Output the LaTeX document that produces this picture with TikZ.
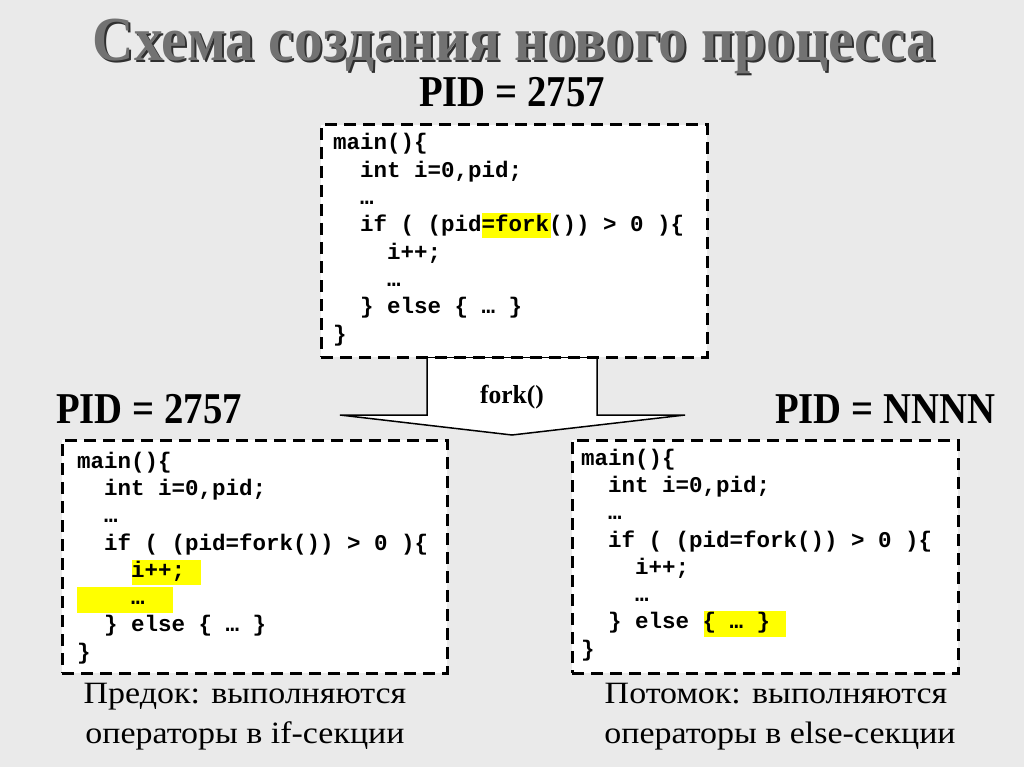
\documentclass[tikz,border=0pt]{standalone}
\usepackage{fontspec}
\setmainfont{Liberation Serif}
\setmonofont{Liberation Mono}
\definecolor{bg}{HTML}{EAEAEA}
\definecolor{titlegray}{HTML}{727272}
\definecolor{shadowgray}{HTML}{303030}
\definecolor{hl}{HTML}{FFFF00}
\tikzset{
  codebox/.style={draw=black, line width=3pt, dash pattern=on 12pt off 7pt, fill=white},
  code/.style={anchor=base west, inner sep=0pt, font=\ttfamily\bfseries\fontsize{22.5}{27}\selectfont},
  pidlabel/.style={anchor=base, inner sep=0pt, font=\bfseries\fontsize{44}{50}\selectfont, xscale=0.88},
  caption/.style={anchor=base, inner sep=0pt, font=\fontsize{31}{36}\selectfont, xscale=1.095},
  titletext/.style={anchor=base, inner sep=0pt, font=\bfseries\fontsize{58}{64}\selectfont, xscale=0.99, yscale=1.08},
  hlbox/.style={fill=hl, draw=none},
}
\begin{document}
\begin{tikzpicture}[x=1pt,y=-1pt]
\useasboundingbox (0,0) rectangle (1024,767);
\fill[bg] (0,0) rectangle (1024,767);
% title
\node[titletext, text=shadowgray] (titleshadow) at (516,63) {Схема создания нового процесса};
\node[titletext, text=titlegray] (title) at (514,61) {Схема создания нового процесса};
\node[pidlabel] (pidtop) at (512,107) {PID = 2757};
\node[pidlabel] (pidleft) at (149,423) {PID = 2757};
\node[pidlabel] (pidright) at (885,423) {PID = NNNN};
% arrow
\draw[line width=1.5pt, fill=white, line join=miter] (427,357) -- (427,415) -- (340,415) -- (512,435) -- (685,415) -- (597,415) -- (597,357) -- cycle;
\node[anchor=base, inner sep=0pt, font=\bfseries\fontsize{26}{30}\selectfont, xscale=0.98] (fork) at (512,403) {fork()};
% top box
\node[codebox, minimum width=386pt, minimum height=232pt, inner sep=0pt] (topbox) at (514,241) {};
\fill[hlbox] (482,213) rectangle (551,238);
\node[code] (t1) at (333,150) {main()\{};
\node[code] (t2) at (360,177.3) {int i=0,pid;};
\node[code] (t3) at (360,204.6) {…};
\node[code] (t4) at (360,232) {if ( (pid=fork()) > 0 )\{};
\node[code] (t5) at (387,259.2) {i++;};
\node[code] (t6) at (387,286.5) {…};
\node[code] (t7) at (360,313.8) {\} else \{ … \}};
\node[code] (t8) at (333,341) {\}};
% left box
\node[codebox, minimum width=385pt, minimum height=233pt, inner sep=0pt] (leftbox) at (254.5,556.5) {};
\fill[hlbox] (132,560) rectangle (201,585);
\fill[hlbox] (77,587) rectangle (173,613);
\node[code] (l1) at (77,468) {main()\{};
\node[code] (l2) at (104,495.3) {int i=0,pid;};
\node[code] (l3) at (104,522.6) {…};
\node[code] (l4) at (104,550) {if ( (pid=fork()) > 0 )\{};
\node[code] (l5) at (131,577.2) {i++;};
\node[code] (l6) at (131,604.5) {…};
\node[code] (l7) at (104,631.8) {\} else \{ … \}};
\node[code] (l8) at (77,659) {\}};
% right box
\node[codebox, minimum width=386pt, minimum height=233pt, inner sep=0pt] (rightbox) at (765,556.5) {};
\fill[hlbox] (704,611) rectangle (786,637);
\node[code] (r1) at (581,465) {main()\{};
\node[code] (r2) at (608,492.3) {int i=0,pid;};
\node[code] (r3) at (608,519.6) {…};
\node[code] (r4) at (608,547) {if ( (pid=fork()) > 0 )\{};
\node[code] (r5) at (635,574.2) {i++;};
\node[code] (r6) at (635,601.5) {…};
\node[code] (r7) at (608,628.8) {\} else \{ … \}};
\node[code] (r8) at (581,656) {\}};
% captions
\node[caption] (capl1) at (245,703) {Предок: выполняются};
\node[caption] (capl2) at (245,743) {операторы в if-секции};
\node[caption] (capr1) at (776,703) {Потомок: выполняются};
\node[caption] (capr2) at (780,743) {операторы в else-секции};
\end{tikzpicture}
\end{document}
